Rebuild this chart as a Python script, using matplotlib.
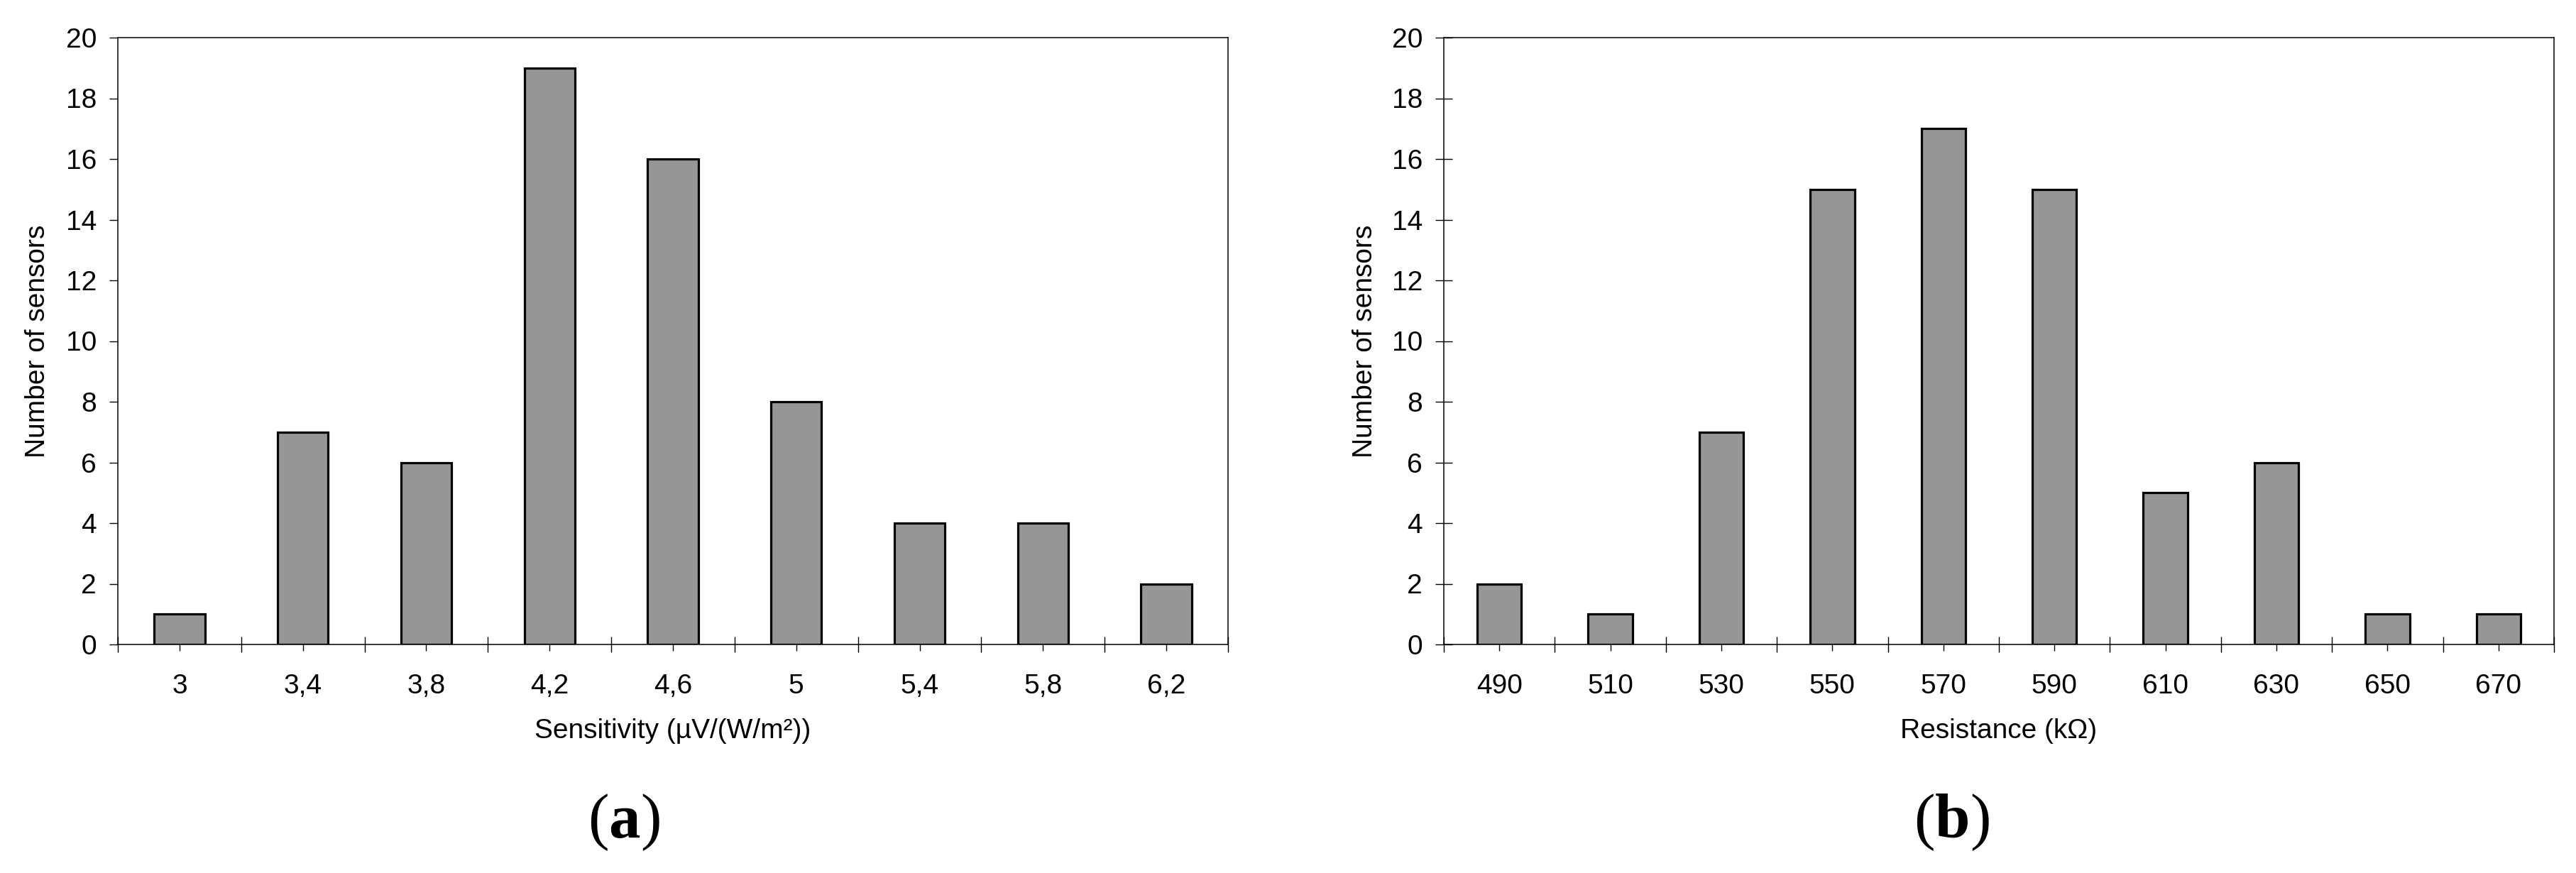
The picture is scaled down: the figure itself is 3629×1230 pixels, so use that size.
import matplotlib
matplotlib.use('Agg')
import matplotlib.pyplot as plt
import numpy as np

# (a) sensitivity histogram
sens_labels = ['3', '3,4', '3,8', '4,2', '4,6', '5', '5,4', '5,8', '6,2']
sens_counts = [1, 7, 6, 19, 16, 8, 4, 4, 2]

# (b) resistance histogram
res_labels = ['490', '510', '530', '550', '570', '590', '610', '630', '650', '670']
res_counts = [2, 1, 7, 15, 17, 15, 5, 6, 1, 1]

y_ticks = list(range(0, 21, 2))

plt.rcParams['font.family'] = ['Liberation Sans', 'DejaVu Sans']
plt.rcParams['mathtext.fontset'] = 'custom'
plt.rcParams['mathtext.rm'] = 'Liberation Serif'
plt.rcParams['mathtext.bf'] = 'Liberation Serif:bold'

FS = 28
W, H = 3630, 1230


def draw_hist(ax, labels, counts, bar_width, xlabel, ytick_dir):
  x = np.arange(len(counts))
  ax.bar(x, counts, width=bar_width, color='#969696', edgecolor='black',
         linewidth=2.3, zorder=3)

  ax.set_xlim(-0.5, len(counts) - 0.5)
  ax.set_ylim(0, 20)
  ax.set_yticks(y_ticks)
  ax.set_yticklabels([str(t) for t in y_ticks], fontsize=FS)

  # bin edges as major ticks, bin centres carry the labels
  ax.set_xticks(np.arange(len(counts) + 1) - 0.5)
  ax.set_xticklabels([])
  ax.set_xticks(x, minor=True)
  ax.set_xticklabels(labels, minor=True, fontsize=FS)

  ax.tick_params(axis='x', which='major', direction='inout', length=16,
                 width=1.0, top=False)
  ax.tick_params(axis='x', which='minor', direction='out', length=6.5,
                 width=1.0, pad=23)
  ax.tick_params(axis='y', which='major', direction=ytick_dir,
                 length=8.6 if ytick_dir == 'out' else 17, width=1.0, pad=13)

  for s in ax.spines.values():
    s.set_linewidth(1.1)
    s.set_color('black')

  ax.set_xlabel(xlabel, fontsize=FS)
  ax.xaxis.label.set_va('center')
  ax.xaxis.set_label_coords(0.5, (908 - 1030) / 855)

  ax.set_ylabel('Number of sensors', fontsize=FS)


def main():
  fig = plt.figure(figsize=(W / 100, H / 100), dpi=100)
  fig.patch.set_facecolor('white')

  ax_a = fig.add_axes([166 / W, 322 / H, 1564 / W, 855 / H])
  ax_b = fig.add_axes([2034 / W, 322 / H, 1564 / W, 855 / H])

  draw_hist(ax_a, sens_labels, sens_counts, 0.41,
            'Sensitivity (µV/(W/m²))', 'out')
  draw_hist(ax_b, res_labels, res_counts, 0.40,
            'Resistance (kΩ)', 'inout')

  ax_a.yaxis.label.set_va('center')
  ax_a.yaxis.set_label_coords((53 - 166) / 1564, 0.5)
  ax_b.yaxis.label.set_va('center')
  ax_b.yaxis.set_label_coords((1923 - 2034) / 1564, 0.5)

  fig.text(879 / W, (H - 1159) / H, r'$\mathrm{(}\mathbf{a}\mathrm{)}$',
           fontsize=64, ha='center', va='center')
  fig.text(2749 / W, (H - 1159) / H, r'$\mathrm{(}\mathbf{b}\mathrm{)}$',
           fontsize=64, ha='center', va='center')

  fig.savefig('out.png', dpi=100, facecolor='white')


main()
